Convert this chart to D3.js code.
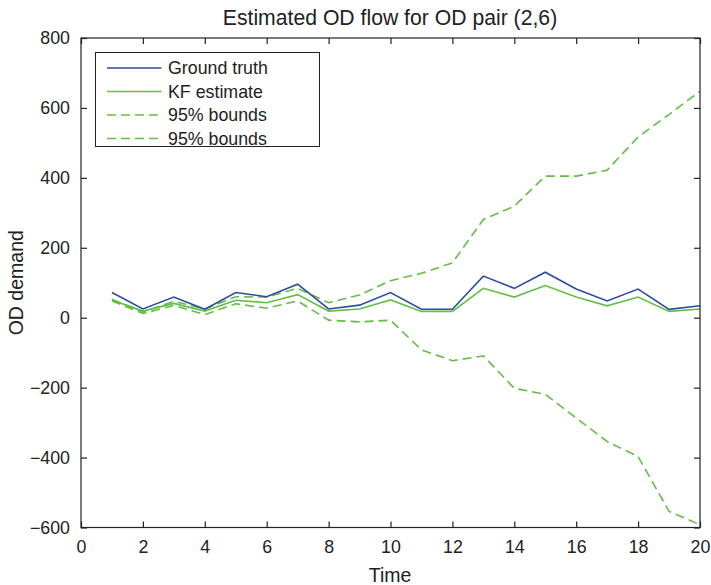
<!DOCTYPE html>
<html><head><meta charset="utf-8">
<script src="https://cdn.jsdelivr.net/npm/d3@7"></script>
<style>body{margin:0;background:#fff}svg{display:block}text{font-family:"Liberation Sans",Arial,sans-serif;fill:#222}</style>
</head><body><svg id="c" width="711" height="585"></svg>
<script>
const time = [1,2,3,4,5,6,7,8,9,10,11,12,13,14,15,16,17,18,19,20];
const groundTruth = [72,25,59,24,72,60,96,25,36,72,24,24,119,84,130,82,48,82,24,34];
const kfEstimate = [51,19,41,19,50,43,66,19,25,51,18,18,84,59,92,59,34,59,18,25];
const upperBound = [53,16,47,25,60,59,84,43,65,106,127,157,281,319,405,405,422,517,581,648];
const lowerBound = [48,12,35,9,40,27,48,-7,-12,-7,-92,-123,-109,-202,-219,-287,-354,-397,-554,-592];
const xTicks = [0,2,4,6,8,10,12,14,16,18,20];
const yTicks = [-600,-400,-200,0,200,400,600,800];
const legendLabels = ["Ground truth","KF estimate","95% bounds","95% bounds"];

const svg = d3.select("#c");
const L=81, R=700, T=38, B=527.5;
const x = d3.scaleLinear().domain([0,20]).range([L,R]);
const y = d3.scaleLinear().domain([-600,800]).range([B,T]);
const blue="#2b4d9e", green="#62bf45";

svg.append("text").attr("x",390).attr("y",25).attr("text-anchor","middle").attr("font-size",21.2).text("Estimated OD flow for OD pair (2,6)");

const g = svg.append("g");
const line = d3.line().x((d,i)=>x(time[i])).y(d=>y(d));
g.append("path").datum(upperBound).attr("d",line).attr("fill","none").attr("stroke",green).attr("stroke-width",1.6).attr("stroke-dasharray","9,5");
g.append("path").datum(lowerBound).attr("d",line).attr("fill","none").attr("stroke",green).attr("stroke-width",1.6).attr("stroke-dasharray","9,5");
g.append("path").datum(kfEstimate).attr("d",line).attr("fill","none").attr("stroke",green).attr("stroke-width",1.6);
g.append("path").datum(groundTruth).attr("d",line).attr("fill","none").attr("stroke",blue).attr("stroke-width",1.6);

// box
svg.append("rect").attr("x",L).attr("y",T).attr("width",R-L).attr("height",B-T).attr("fill","none").attr("stroke","#222").attr("stroke-width",1.2);

// axes with inward ticks
const xb = svg.append("g").attr("transform",`translate(0,${B})`).call(d3.axisBottom(x).tickValues(xTicks).tickSize(-6).tickPadding(13).tickFormat(d3.format("d")));
const xt = svg.append("g").attr("transform",`translate(0,${T})`).call(d3.axisTop(x).tickValues(xTicks).tickSize(-6).tickFormat(""));
const yl = svg.append("g").attr("transform",`translate(${L},0)`).call(d3.axisLeft(y).tickValues(yTicks).tickSize(-6).tickPadding(11).tickFormat(d=>d<0?"\u2212"+Math.abs(d):d));
const yr = svg.append("g").attr("transform",`translate(${R},0)`).call(d3.axisRight(y).tickValues(yTicks).tickSize(-6).tickFormat(""));
[xb,xt,yl,yr].forEach(a=>{a.select(".domain").remove();a.selectAll("line").attr("stroke","#222").attr("stroke-width",1.2);a.selectAll("text").attr("font-size",17.8).attr("fill","#222").style("font-family","Liberation Sans, Arial, sans-serif");});

svg.append("text").attr("x",390).attr("y",582).attr("text-anchor","middle").attr("font-size",19.5).text("Time");
svg.append("text").attr("transform",`translate(23,${(T+B)/2}) rotate(-90)`).attr("text-anchor","middle").attr("font-size",19.5).text("OD demand");

// legend
const lg = svg.append("g");
lg.append("rect").attr("x",95.5).attr("y",52.5).attr("width",224).attr("height",94).attr("fill","#fff").attr("stroke","#222").attr("stroke-width",1);
const lcol=[blue,green,green,green], ldash=[null,null,"9,5","9,5"];
legendLabels.forEach((t,i)=>{
  const yy=68+i*23.5;
  lg.append("line").attr("x1",107).attr("x2",161.5).attr("y1",yy).attr("y2",yy).attr("stroke",lcol[i]).attr("stroke-width",1.3).attr("stroke-dasharray",ldash[i]);
  lg.append("text").attr("x",168).attr("y",yy+6).attr("font-size",17.8).text(t);
});
</script></body></html>
